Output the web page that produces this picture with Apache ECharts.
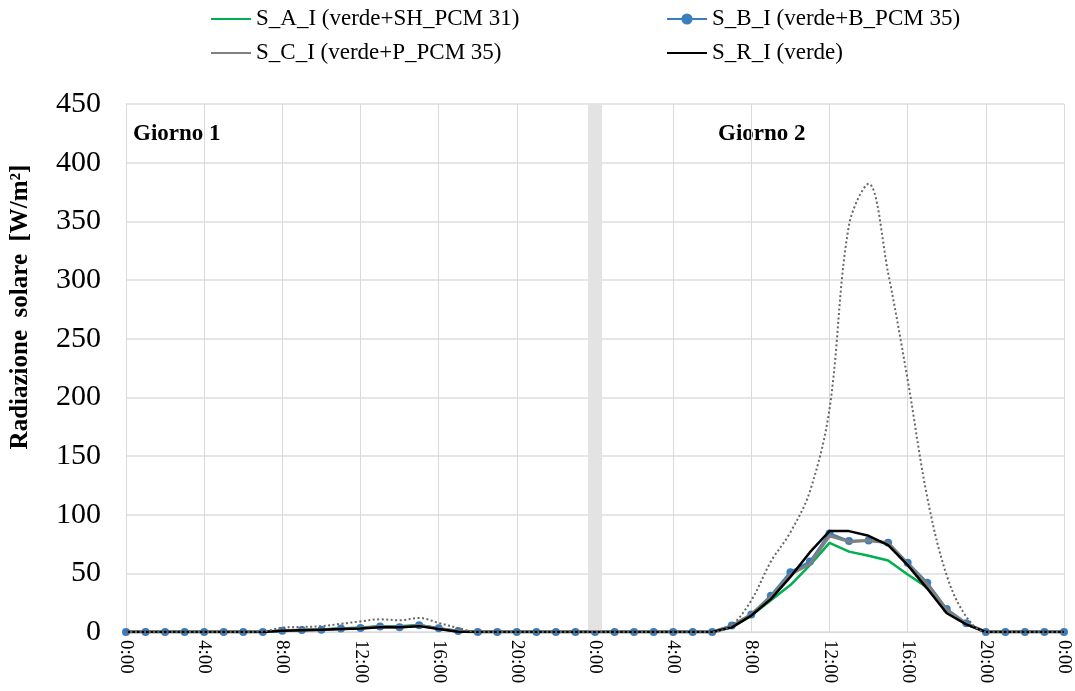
<!DOCTYPE html>
<html>
<head>
<meta charset="utf-8">
<script src="https://cdn.jsdelivr.net/npm/echarts@6/dist/echarts.min.js"></script>
<style>
html,body{margin:0;padding:0;background:#fff;}
#chart{width:1075px;height:691px;}
</style>
</head>
<body>
<div id="chart"></div>
<script>
// Hour labels (two days + final midnight)
var hours = [
  '0:00','1:00','2:00','3:00','4:00','5:00','6:00','7:00','8:00','9:00','10:00','11:00',
  '12:00','13:00','14:00','15:00','16:00','17:00','18:00','19:00','20:00','21:00','22:00','23:00',
  '0:00','1:00','2:00','3:00','4:00','5:00','6:00','7:00','8:00','9:00','10:00','11:00',
  '12:00','13:00','14:00','15:00','16:00','17:00','18:00','19:00','20:00','21:00','22:00','23:00',
  '0:00'
];
var yTicks = [0, 50, 100, 150, 200, 250, 300, 350, 400, 450];
var dayLabels = ['Giorno 1', 'Giorno 2'];
var dayBoundaryIndex = 24;

var seriesNames = [
  'S_A_I (verde+SH_PCM 31)',
  'S_B_I (verde+B_PCM 35)',
  'S_C_I (verde+P_PCM 35)',
  'S_R_I (verde)'
];

// S_A_I (green)
var sA = [0,0,0,0,0,0,0,0,1,1.8,2.2,3,3.8,5,5,6,3,0.5,0,0,0,0,0,0,
          0,0,0,0,0,0,0,4,14,27,40,57,76,68.5,65,61,49,38,17.5,6.5,0,0,0,0,0];
// S_B_I (blue, markers)
var sB = [0,0,0,0,0,0,0,0,1,1.7,2,3,3.5,4.7,4,5.7,3.2,0.8,0,0,0,0,0,0,
          0,0,0,0,0,0,0,5.5,15,31,51,60,84,77.5,78,76,59,42,19.5,7.5,0,0,0,0,0];
// S_C_I (gray)
var sC = [0,0,0,0,0,0,0,0,1,1.6,2,2.8,3.3,4.5,4,5.5,3,0.7,0,0,0,0,0,0,
          0,0,0,0,0,0,0,5,15,30,49,58,82,77,78,76,58,41,19,7,0,0,0,0,0];
// S_R_I (black)
var sR = [0,0,0,0,0,0,0,0,1,1.5,2,2.5,3,4,4,5,2.5,0.3,0,0,0,0,0,0,
          0,0,0,0,0,0,0,4,14,28,47,68,86,86,82,74,57,37,16,6.5,0,0,0,0,0];
// Dotted reference radiation (not in legend)
var sExt = [0,0,0,0,0,0,0,0.5,3.7,4.3,5,7,9,10.8,10,12,7.7,3.4,0,0,0,0,0,0,
            0,0,0,0,0,0,0,6,27,60,85,120,190,347,382,306,215,115,48,13,0,0,0,0,0];

var serif = "'Liberation Serif','Times New Roman',serif";
var chart = echarts.init(document.getElementById('chart'), null, {renderer: 'canvas'});

function legendItem(name, keepSymbol) {
  return keepSymbol ? {name: name} : {name: name, itemStyle: {opacity: 0}};
}

var legendText = {fontFamily: serif, fontSize: 23, color: '#000', lineHeight: 26};

var option = {
  backgroundColor: '#ffffff',
  animation: false,
  textStyle: {fontFamily: serif},
  grid: {left: 126, right: 11, top: 104, bottom: 59, containLabel: false},
  legend: [
    {
      left: 205, top: 1, orient: 'vertical', itemWidth: 40, itemHeight: 14, itemGap: 8,
      data: [legendItem(seriesNames[0], false), legendItem(seriesNames[2], false)],
      textStyle: legendText
    },
    {
      left: 661, top: 1, orient: 'vertical', itemWidth: 40, itemHeight: 14, itemGap: 8,
      data: [legendItem(seriesNames[1], true), legendItem(seriesNames[3], false)],
      textStyle: legendText
    }
  ],
  xAxis: {
    type: 'category',
    data: hours,
    boundaryGap: false,
    axisLine: {show: true, lineStyle: {color: '#d9d9d9', width: 1}},
    axisTick: {show: false, interval: 3},
    axisLabel: {interval: 3, rotate: -90, fontFamily: serif, fontSize: 19, color: '#000', margin: 8},
    splitLine: {show: true, interval: 3, lineStyle: {color: '#d9d9d9', width: 1}}
  },
  yAxis: {
    type: 'value',
    min: yTicks[0],
    max: yTicks[yTicks.length - 1],
    interval: yTicks[1] - yTicks[0],
    axisLine: {show: true, lineStyle: {color: '#d9d9d9', width: 1}},
    axisTick: {show: false},
    axisLabel: {fontFamily: serif, fontSize: 30, color: '#000', margin: 25},
    splitLine: {show: true, lineStyle: {color: '#dedede', width: 1.5}}
  },
  graphic: [
    {
      type: 'text', x: 21, y: 307, rotation: Math.PI / 2,
      style: {text: 'Radiazione  solare  [W/m²]', font: 'bold 25px ' + serif, fill: '#000',
              align: 'center', verticalAlign: 'middle'}
    },
    {
      type: 'text', x: 133, y: 134,
      style: {text: dayLabels[0], font: 'bold 23px ' + serif, fill: '#000', align: 'left', verticalAlign: 'middle'}
    },
    {
      type: 'text', x: 718, y: 134,
      style: {text: dayLabels[1], font: 'bold 23px ' + serif, fill: '#000', align: 'left', verticalAlign: 'middle'}
    }
  ],
  series: [
    {
      name: 'separator', type: 'line', data: [], z: 1, silent: true,
      markLine: {
        silent: true, symbol: 'none', label: {show: false},
        lineStyle: {color: '#e3e3e3', width: 14, type: 'solid'},
        emphasis: {disabled: true},
        data: [{xAxis: dayBoundaryIndex}]
      }
    },
    {
      name: seriesNames[0], type: 'line', data: sA, z: 3,
      symbol: 'none', itemStyle: {color: '#00b050'},
      lineStyle: {color: '#00b050', width: 2.5}
    },
    {
      name: seriesNames[1], type: 'line', data: sB, z: 4,
      symbol: 'circle', symbolSize: 8, showAllSymbol: true,
      itemStyle: {color: '#3a7ebf'},
      lineStyle: {color: '#3a7ebf', width: 2.5}
    },
    {
      name: seriesNames[2], type: 'line', data: sC, z: 5,
      symbol: 'none', itemStyle: {color: '#808080'},
      lineStyle: {color: '#808080', width: 3}
    },
    {
      name: seriesNames[3], type: 'line', data: sR, z: 6,
      symbol: 'none', itemStyle: {color: '#000000'},
      lineStyle: {color: '#000000', width: 2.5}
    },
    {
      name: 'esterna', type: 'line', data: sExt, z: 7, smooth: 0.35,
      symbol: 'none',
      lineStyle: {color: '#666666', width: 2, type: [2, 2.5]}
    }
  ]
};
chart.setOption(option);
</script>
</body>
</html>
